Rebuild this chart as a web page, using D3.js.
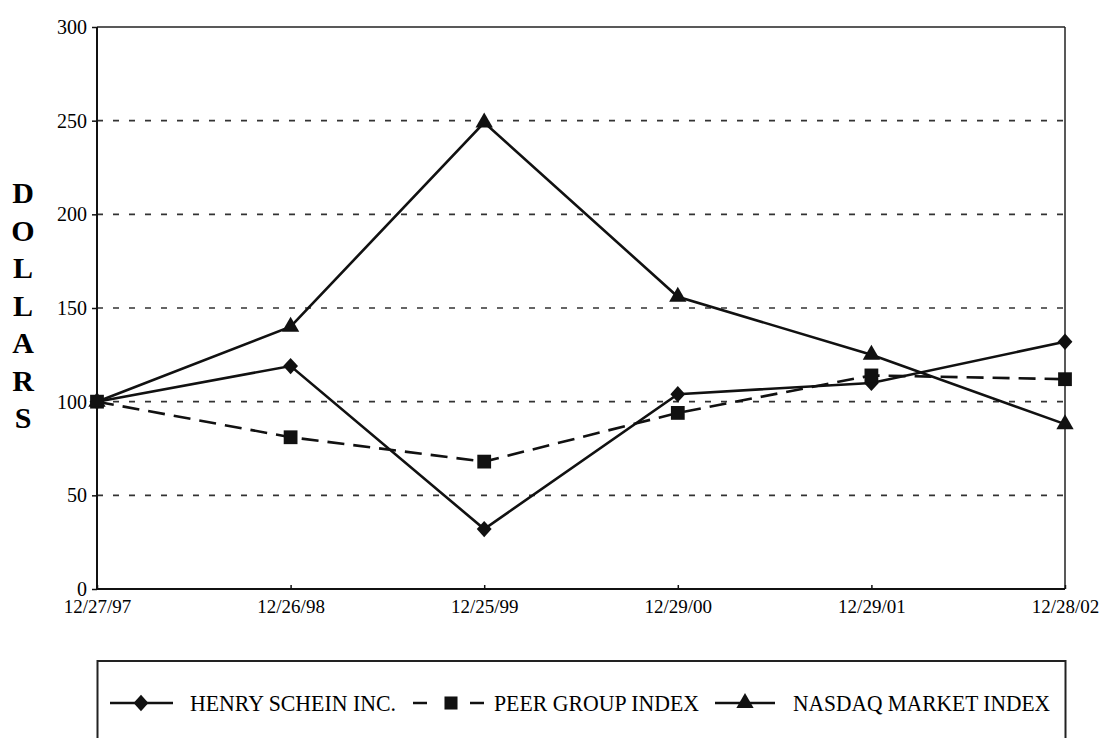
<!DOCTYPE html>
<html>
<head>
<meta charset="utf-8">
<script src="https://cdn.jsdelivr.net/npm/d3@7/dist/d3.min.js"></script>
<style>
  html, body { margin: 0; padding: 0; background: #fff; }
  svg { display: block; }
</style>
</head>
<body>
<svg id="chart" width="1100" height="738"></svg>
<script>
const categories = ["12/27/97", "12/26/98", "12/25/99", "12/29/00", "12/29/01", "12/28/02"];
const henrySchein = [100, 119, 32, 104, 110, 132];
const peerGroup   = [100, 81, 68, 94, 114, 112];
const nasdaq      = [100, 140, 249, 156, 125, 88];
const yTicks      = [0, 50, 100, 150, 200, 250, 300];
const seriesNames = ["HENRY SCHEIN INC.", "PEER GROUP INDEX", "NASDAQ MARKET INDEX"];
const axisTitle   = "DOLLARS";

(function () {
const svg = d3.select("#chart");
const FONT = "'Liberation Serif', 'Times New Roman', serif";
const pL = 97, pR = 1065, pT = 27, pB = 589;

const x = d3.scalePoint().domain(categories).range([pL, pR]).padding(0);
const y = d3.scaleLinear().domain([0, 300]).range([pB, pT]);

// rotated-square diamond like the reference
const diamond = {
  draw(ctx, size) {
    const r = Math.sqrt(size / 2);
    ctx.moveTo(0, -r * 1.1); ctx.lineTo(r, 0); ctx.lineTo(0, r * 1.1); ctx.lineTo(-r, 0); ctx.closePath();
  }
};

// gridlines
svg.append("g").selectAll("line")
  .data(yTicks.filter(d => d > 0 && d < 300))
  .join("line")
  .attr("x1", pL).attr("x2", pR)
  .attr("y1", d => y(d)).attr("y2", d => y(d))
  .attr("stroke", "#333").attr("stroke-width", 1.6)
  .attr("stroke-dasharray", "6,10");

// frame top and right
svg.append("line").attr("x1", pL).attr("x2", pR).attr("y1", pT).attr("y2", pT)
  .attr("stroke", "#222").attr("stroke-width", 1.5);
svg.append("line").attr("x1", pR).attr("x2", pR).attr("y1", pT).attr("y2", pB)
  .attr("stroke", "#222").attr("stroke-width", 1.5);

// y axis
const yAxis = svg.append("g").attr("transform", `translate(${pL},0)`)
  .call(d3.axisLeft(y).tickValues(yTicks).tickSize(5).tickPadding(5).tickFormat(d3.format("d")));
yAxis.select(".domain").attr("stroke", "#111").attr("stroke-width", 2).attr("d", `M0,${pT}V${pB}`);
yAxis.selectAll(".tick line").attr("stroke", "#111").attr("stroke-width", 1.5);
yAxis.selectAll("text").attr("font-family", FONT).attr("font-size", 20).attr("fill", "#000");

// x axis
const xAxis = svg.append("g").attr("transform", `translate(0,${pB})`)
  .call(d3.axisBottom(x).tickSize(-4).tickPadding(11));
xAxis.select(".domain").attr("stroke", "#111").attr("stroke-width", 2).attr("d", `M${pL},0H${pR}`);
xAxis.selectAll(".tick line").attr("stroke", "#111").attr("stroke-width", 1.5);
xAxis.selectAll("text").attr("font-family", FONT).attr("font-size", 19).attr("fill", "#000");

// vertical axis title (stacked letters)
svg.append("g").selectAll("text")
  .data(axisTitle.split(""))
  .join("text")
  .attr("x", 23)
  .attr("y", (d, i) => 203 + i * 37.5)
  .attr("text-anchor", "middle")
  .attr("font-family", FONT).attr("font-weight", "bold").attr("font-size", 30)
  .attr("fill", "#000")
  .text(d => d);

// series
const line = d3.line().x((d, i) => x(categories[i])).y(d => y(d));
const series = [
  { values: henrySchein, dash: null, symbol: diamond, size: 110 },
  { values: peerGroup, dash: "17,9", symbol: d3.symbolSquare, size: 190 },
  { values: nasdaq, dash: null, symbol: d3.symbolTriangle, size: 130 }
];

series.forEach(s => {
  svg.append("path")
    .datum(s.values)
    .attr("d", line)
    .attr("fill", "none")
    .attr("stroke", "#111")
    .attr("stroke-width", 2.6)
    .attr("stroke-dasharray", s.dash);
});
series.forEach(s => {
  svg.append("g").selectAll("path")
    .data(s.values)
    .join("path")
    .attr("transform", (d, i) => `translate(${x(categories[i])},${y(d)})`)
    .attr("d", d3.symbol().type(s.symbol).size(s.size))
    .attr("fill", "#111");
});

// legend
svg.append("rect")
  .attr("x", 97.5).attr("y", 661).attr("width", 968).attr("height", 120)
  .attr("fill", "none").attr("stroke", "#222").attr("stroke-width", 2);

const ly = 703;
const legendItems = [
  { segs: [[110, 173]], mx: 141, textX: 190, textW: 206, symbol: diamond, size: 110 },
  { segs: [[413, 427], [470, 484]], mx: 451, textX: 494, textW: 205, symbol: d3.symbolSquare, size: 170 },
  { segs: [[715, 775]], mx: 745, textX: 793, textW: 257, symbol: d3.symbolTriangle, size: 130 }
];
legendItems.forEach((it, i) => {
  const g = svg.append("g");
  it.segs.forEach(sg => {
    g.append("line").attr("x1", sg[0]).attr("x2", sg[1]).attr("y1", ly).attr("y2", ly)
      .attr("stroke", "#111").attr("stroke-width", 2.5);
  });
  g.append("path").attr("transform", `translate(${it.mx},${ly})`)
    .attr("d", d3.symbol().type(it.symbol).size(it.size)).attr("fill", "#111");
  g.append("text").attr("x", it.textX).attr("y", ly + 8)
    .attr("font-family", FONT).attr("font-size", 23).attr("fill", "#000")
    .attr("textLength", it.textW).attr("lengthAdjust", "spacingAndGlyphs")
    .text(seriesNames[i]);
});
})();
</script>
</body>
</html>
